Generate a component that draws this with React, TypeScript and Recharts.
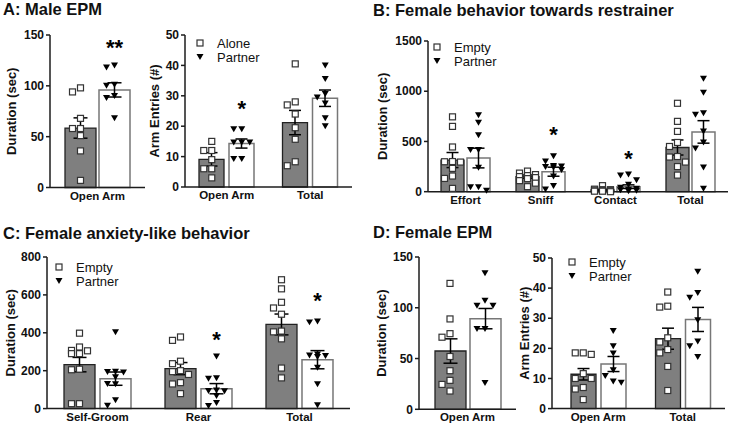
import React from "react";
import {
  Bar,
  ComposedChart,
  ErrorBar,
  Legend,
  ReferenceDot,
  Scatter,
  XAxis,
  YAxis,
} from "recharts";

const FONT = "'Liberation Sans', Arial, Helvetica, sans-serif";
const GRAY = "#7f7f7f";
const AX = "#1c1c1c";

// A: Male EPM - duration
const maleDurCats = ["Open Arm"];
const maleDurAloneMean = [58.5];
const maleDurAloneSem = [10];
const maleDurPartnerMean = [96];
const maleDurPartnerSem = [7];
const maleDurAlonePts = [[98, 94, 68, 58, 58, 51, 36, 7]];
const maleDurPartnerPts = [[120, 118, 101, 100, 90, 88, 68]];

// A: Male EPM - arm entries
const maleEntCats = ["Open Arm", "Total"];
const maleEntAloneMean = [9.1, 21.2];
const maleEntAloneSem = [2.2, 4];
const maleEntPartnerMean = [14.3, 29.2];
const maleEntPartnerSem = [1.5, 2.7];
const maleEntAlonePts = [
  [15, 12, 12, 9, 6, 6, 3],
  [40.5, 28, 27, 24, 19.5, 15.7, 8.3, 7],
];
const maleEntPartnerPts = [
  [19, 19, 14.6, 14.6, 14.6, 9.2, 9.2],
  [40, 35.5, 30.6, 29.4, 27.5, 22.6, 20],
];

// B: Female behavior towards restrainer
const restrCats = ["Effort", "Sniff", "Contact", "Total"];
const restrEmptyMean = [315, 150, 18, 440];
const restrEmptySem = [75, 16, 6, 75];
const restrPartnerMean = [335, 199, 50, 595];
const restrPartnerSem = [98, 45, 18, 112];
const restrEmptyPts = [
  [745, 650, 445, 300, 298, 295, 232, 156, 132, 33],
  [205, 185, 170, 160, 150, 140, 130, 110, 85, 50],
  [60, 25, 20, 20, 15, 10, 10, 5, 5, 0],
  [880, 700, 600, 490, 450, 350, 345, 295, 250, 165],
];
const restrPartnerPts = [
  [762, 685, 563, 414, 414, 238, 43, 43, 10],
  [354, 300, 255, 250, 245, 240, 215, 150, 56, 23],
  [170, 160, 115, 70, 40, 30, 20, 15, 10, 5],
  [1125, 985, 780, 765, 600, 490, 430, 240, 30],
];

// C: Female anxiety-like behavior
const anxCats = ["Self-Groom", "Rear", "Total"];
const anxEmptyMean = [232, 211, 444];
const anxEmptySem = [38, 32, 55];
const anxPartnerMean = [158, 105, 258];
const anxPartnerSem = [35, 27, 48];
const anxEmptyPts = [
  [398, 325, 307, 305, 290, 290, 208, 205, 26, 26],
  [378, 360, 250, 237, 200, 195, 180, 137, 130, 79],
  [680, 632, 561, 531, 498, 409, 405, 368, 214, 162],
];
const anxPartnerPts = [
  [403, 195, 193, 190, 165, 130, 128, 44, 15],
  [275, 160, 158, 95, 93, 92, 67, 30, 14],
  [460, 455, 285, 280, 278, 272, 215, 128, 18],
];

// D: Female EPM - duration
const femDurCats = ["Open Arm"];
const femDurEmptyMean = [57.4];
const femDurEmptySem = [12];
const femDurPartnerMean = [89.3];
const femDurPartnerSem = [10];
const femDurEmptyPts = [[124, 89, 74.5, 71, 52, 38, 28.5, 24.5, 18]];
const femDurPartnerPts = [[134, 107, 102, 102, 79, 79, 26]];

// D: Female EPM - arm entries
const femEntCats = ["Open Arm", "Total"];
const femEntEmptyMean = [11.4, 23.2];
const femEntEmptySem = [1.9, 3.5];
const femEntPartnerMean = [14.8, 29.6];
const femEntPartnerSem = [2.5, 4];
const femEntEmptyPts = [
  [18.5, 18.5, 18, 11.6, 10, 10, 7, 6.5, 3],
  [38.7, 34, 33.7, 23.5, 22.1, 19.6, 18.5, 14, 6],
];
const femEntPartnerPts = [
  [25.8, 20.7, 18.3, 12.7, 10.8, 9, 8.6],
  [45.4, 38.4, 36.8, 29.3, 22.3, 20.7, 17.1],
];

const alonePartner = ["Alone", "Partner"];
const emptyPartner = ["Empty", "Partner"];

const mL = 60;
const mT = 12;
const mB = 24;
const mR = 4;

// simple beeswarm: push overlapping points sideways, but stay inside the bar
function spread(vals: number[], center: number, bandPx: number, pxPerUnit: number, maxOff: number) {
  const step = 8;
  const cands = [0, -1, 1, -2, 2, -3, 3].map((k) => k * step).filter((o) => Math.abs(o) <= maxOff);
  const placed: { x: number; y: number }[] = [];
  return vals.map((v) => {
    const py = v * pxPerUnit;
    let best = 0;
    let bestD = -1;
    for (const px of cands) {
      const d = placed.reduce((m, q) => Math.min(m, Math.hypot(q.x - px, q.y - py)), 99);
      if (d >= 7) {
        best = px;
        bestD = d;
        break;
      }
      if (d > bestD) {
        best = px;
        bestD = d;
      }
    }
    placed.push({ x: best, y: py });
    return { x: center + best / bandPx, y: v };
  });
}

const Square = (props: any) => (
  <rect x={props.cx - 3} y={props.cy - 3} width={6} height={6} fill="#fff" stroke="#333" strokeWidth={1.2} />
);
const Tri = (props: any) => (
  <path d={`M${props.cx - 3.5},${props.cy - 3}L${props.cx + 3.5},${props.cy - 3}L${props.cx},${props.cy + 3}Z`} fill="#000" />
);

function LegendBox({ labels }: { labels: string[] }) {
  return (
    <svg width={90} height={30} style={{ display: "block", overflow: "visible" }}>
      <Square cx={4} cy={6} />
      <Tri cx={4} cy={20} />
      {labels.map((l, i) => (
        <text key={l} x={21} y={6 + i * 14} dominantBaseline="central" fontSize={13} fontFamily={FONT} fill="#111">
          {l}
        </text>
      ))}
    </svg>
  );
}

type PanelProps = {
  axisX: number;
  rightX: number;
  topY: number;
  zeroY: number;
  yMax: number;
  ticks: number[];
  cats: string[];
  meanA: number[];
  semA: number[];
  meanB: number[];
  semB: number[];
  ptsA: number[][];
  ptsB: number[][];
  barSize: number;
  barGap: number;
  capW: number;
  padLeft?: number;
  yLabel: string;
  yLabelDx: number;
  legend?: { labels: string[]; x: number; y: number };
  stars?: { cat: number; value: number; text: string }[];
};

function Panel(p: PanelProps) {
  const pad = p.padLeft ?? 0;
  const width = p.rightX - p.axisX + mL + mR;
  const plotH = p.zeroY - p.topY;
  const height = plotH + mT + mB;
  const left = p.axisX - mL;
  const top = p.topY - mT;
  const n = p.cats.length;
  const bandPx = (p.rightX - p.axisX - pad) / n;
  const half = (p.barSize + p.barGap) / 2 / bandPx;
  const pxPerUnit = plotH / p.yMax;
  const maxOff = p.barSize / 2 - 2;
  const data = p.cats.map((c, i) => ({
    cat: c,
    a: p.meanA[i],
    aErr: p.semA[i],
    b: p.meanB[i],
    bErr: p.semB[i],
  }));
  const ptsA = p.ptsA.flatMap((vals, i) => spread(vals, i + 0.5 - half, bandPx, pxPerUnit, maxOff));
  const ptsB = p.ptsB.flatMap((vals, i) => spread(vals, i + 0.5 + half, bandPx, pxPerUnit, maxOff));
  const lx = mL - p.yLabelDx;
  const ly = mT + plotH / 2;

  return (
    <div style={{ position: "absolute", left, top, width, height }}>
      <ComposedChart
        width={width}
        height={height}
        data={data}
        margin={{ top: mT, right: mR, bottom: 0, left: 0 }}
        barSize={p.barSize}
        barGap={p.barGap}
      >
        <XAxis
          dataKey="cat"
          type="category"
          height={mB}
          interval={0}
          padding={{ left: pad, right: 0 }}
          axisLine={{ stroke: AX, strokeWidth: 1.5 }}
          tickLine={false}
          tickSize={4}
          tickMargin={0}
          tick={{ fill: "#111", fontSize: 11.5, fontWeight: 700, fontFamily: FONT }}
        />
        <XAxis xAxisId="pts" dataKey="x" type="number" domain={[0, n]} padding={{ left: pad, right: 0 }} hide />
        <YAxis
          type="number"
          domain={[0, p.yMax]}
          ticks={p.ticks}
          interval={0}
          width={mL}
          axisLine={{ stroke: AX, strokeWidth: 1.5 }}
          tickLine={{ stroke: AX, strokeWidth: 1.5 }}
          tickSize={4}
          tickMargin={2}
          tick={{ fill: "#111", fontSize: 12, fontWeight: 700, fontFamily: FONT }}
          label={{
            value: p.yLabel,
            content: () => (
              <text
                x={lx}
                y={ly}
                transform={`rotate(-90 ${lx} ${ly})`}
                textAnchor="middle"
                dominantBaseline="central"
                fontSize={13}
                fontWeight={700}
                fontFamily={FONT}
                fill="#111"
              >
                {p.yLabel}
              </text>
            ),
          }}
        />
        <Bar dataKey="a" fill={GRAY} stroke="#222" strokeWidth={1.3} isAnimationActive={false}>
          <ErrorBar dataKey="aErr" width={p.capW} stroke="#000" strokeWidth={1.5} direction="y" />
        </Bar>
        <Bar dataKey="b" fill="#fff" stroke="#777" strokeWidth={1.5} isAnimationActive={false}>
          <ErrorBar dataKey="bErr" width={p.capW} stroke="#000" strokeWidth={1.5} direction="y" />
        </Bar>
        <Scatter data={ptsA} xAxisId="pts" dataKey="y" shape={Square} isAnimationActive={false} />
        <Scatter data={ptsB} xAxisId="pts" dataKey="y" shape={Tri} isAnimationActive={false} />
        {(p.stars ?? []).map((s, i) => (
          <ReferenceDot
            key={i}
            xAxisId="pts"
            x={s.cat + 0.5 + half}
            y={s.value}
            r={0}
            ifOverflow="visible"
            shape={(sp: any) => (
              <text
                x={sp.cx}
                y={sp.cy + 12}
                textAnchor="middle"
                fontSize={22}
                fontWeight={700}
                fontFamily={FONT}
                fill="#000"
              >
                {s.text}
              </text>
            )}
          />
        ))}
        {p.legend && (
          <Legend
            layout="vertical"
            align="center"
            verticalAlign="middle"
            wrapperStyle={{ left: p.legend.x - left - 4, top: p.legend.y - top - 6, width: 90, height: 30 }}
            content={() => <LegendBox labels={p.legend!.labels} />}
          />
        )}
      </ComposedChart>
    </div>
  );
}

const Title = ({ x, y, text }: { x: number; y: number; text: string }) => (
  <div
    style={{
      position: "absolute",
      left: x,
      top: y - 10,
      fontFamily: FONT,
      fontWeight: 700,
      fontSize: 16.5,
      lineHeight: "18px",
      color: "#111",
      whiteSpace: "nowrap",
    }}
  >
    {text}
  </div>
);

export default function App() {
  return (
    <div style={{ position: "absolute", left: 0, top: 0, width: 731, height: 426, background: "#fff", overflow: "hidden" }}>
      <Title x={3} y={10} text="A: Male EPM" />
      <Title x={373} y={11} text="B: Female behavior towards restrainer" />
      <Title x={3} y={234} text="C: Female anxiety-like behavior" />
      <Title x={373} y={233} text="D: Female EPM" />

      <Panel
        axisX={50} rightX={145} topY={34.5} zeroY={187} yMax={150} ticks={[0, 50, 100, 150]}
        cats={maleDurCats} meanA={maleDurAloneMean} semA={maleDurAloneSem}
        meanB={maleDurPartnerMean} semB={maleDurPartnerSem}
        ptsA={maleDurAlonePts} ptsB={maleDurPartnerPts}
        barSize={31} barGap={3} capW={7} yLabel="Duration (sec)" yLabelDx={39}
        stars={[{ cat: 0, value: 142, text: "**" }]}
      />
      <Panel
        axisX={185} rightX={352} topY={35} zeroY={187} yMax={50} ticks={[0, 10, 20, 30, 40, 50]}
        cats={maleEntCats} meanA={maleEntAloneMean} semA={maleEntAloneSem}
        meanB={maleEntPartnerMean} semB={maleEntPartnerSem}
        ptsA={maleEntAlonePts} ptsB={maleEntPartnerPts}
        barSize={25} barGap={5} capW={6} yLabel="Arm Entries (#)" yLabelDx={31}
        legend={{ labels: alonePartner, x: 200, y: 43 }}
        stars={[{ cat: 0, value: 27.3, text: "*" }]}
      />
      <Panel
        axisX={428} rightX={728} topY={41} zeroY={191.7} yMax={1500} ticks={[0, 500, 1000, 1500]}
        cats={restrCats} meanA={restrEmptyMean} semA={restrEmptySem}
        meanB={restrPartnerMean} semB={restrPartnerSem}
        ptsA={restrEmptyPts} ptsB={restrPartnerPts}
        barSize={23} barGap={3} capW={6} yLabel="Duration (sec)" yLabelDx={46}
        legend={{ labels: emptyPartner, x: 437, y: 47 }}
        stars={[
          { cat: 1, value: 614, text: "*" },
          { cat: 2, value: 375, text: "*" },
        ]}
      />
      <Panel
        axisX={47} rightX={350} topY={256.7} zeroY={408.3} yMax={800} ticks={[0, 200, 400, 600, 800]}
        cats={anxCats} meanA={anxEmptyMean} semA={anxEmptySem}
        meanB={anxPartnerMean} semB={anxPartnerSem}
        ptsA={anxEmptyPts} ptsB={anxPartnerPts}
        barSize={31} barGap={5} capW={7} yLabel="Duration (sec)" yLabelDx={37}
        legend={{ labels: emptyPartner, x: 59, y: 267 }}
        stars={[
          { cat: 1, value: 387, text: "*" },
          { cat: 2, value: 593, text: "*" },
        ]}
      />
      <Panel
        axisX={419} rightX={516} topY={256.7} zeroY={409} yMax={150} ticks={[0, 50, 100, 150]}
        cats={femDurCats} meanA={femDurEmptyMean} semA={femDurEmptySem}
        meanB={femDurPartnerMean} semB={femDurPartnerSem}
        ptsA={femDurEmptyPts} ptsB={femDurPartnerPts}
        barSize={31} barGap={4} capW={7} yLabel="Duration (sec)" yLabelDx={37}
      />
      <Panel
        axisX={552} rightX={725} padLeft={4} topY={257.7} zeroY={408.3} yMax={50} ticks={[0, 10, 20, 30, 40, 50]}
        cats={femEntCats} meanA={femEntEmptyMean} semA={femEntEmptySem}
        meanB={femEntPartnerMean} semB={femEntPartnerSem}
        ptsA={femEntEmptyPts} ptsB={femEntPartnerPts}
        barSize={25} barGap={5} capW={6} yLabel="Arm Entries (#)" yLabelDx={28}
        legend={{ labels: emptyPartner, x: 572, y: 262 }}
      />
    </div>
  );
}
